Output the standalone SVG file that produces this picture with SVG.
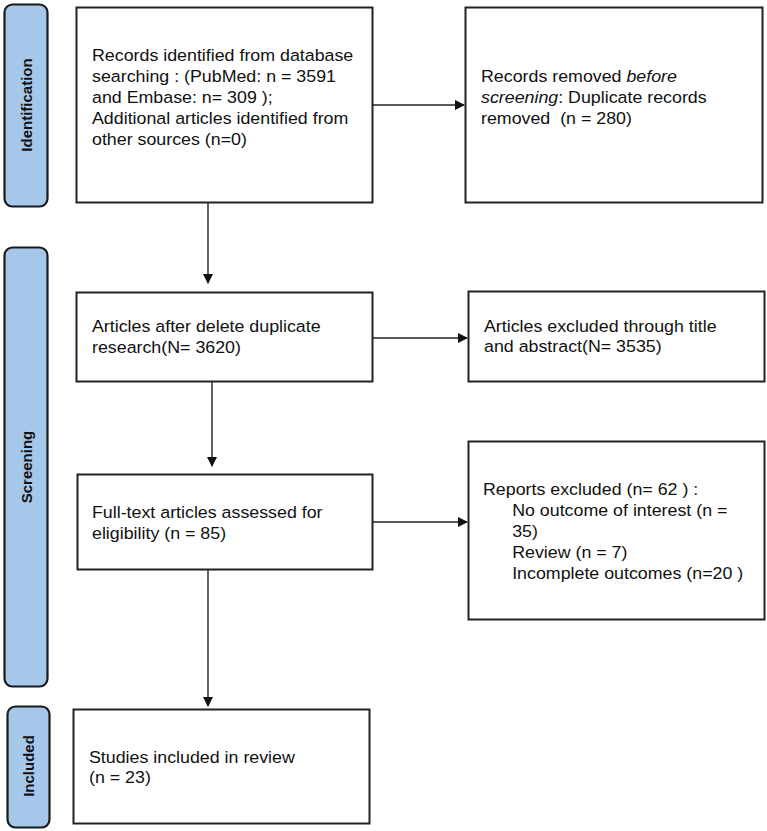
<svg xmlns="http://www.w3.org/2000/svg" width="767" height="831" viewBox="0 0 767 831">
<defs>
<style>
.box{fill:#fff;stroke:#222;stroke-width:2}
.lane{fill:#a5c7ea;stroke:#1a1a1a;stroke-width:2.2}
.t{font-family:"Liberation Sans",Arial,sans-serif;font-size:16.5px;fill:#111}
.lt{font-family:"Liberation Sans",Arial,sans-serif;font-size:15px;font-weight:bold;fill:#111}
.c{stroke:#222;stroke-width:1.4;fill:none}
</style>
<marker id="ah" markerWidth="10" markerHeight="10" refX="9" refY="5" orient="auto" markerUnits="userSpaceOnUse">
<path d="M0,0 L10,5 L0,10 Z" fill="#111"/>
</marker>
</defs>
<rect width="767" height="831" fill="#fff"/>
<g id="lane-identification">
<rect class="lane" x="4.5" y="4.5" width="43" height="202" rx="8"/>
<text class="lt" transform="translate(32,105) rotate(-90)" text-anchor="middle">Identification</text>
</g>
<g id="lane-screening">
<rect class="lane" x="4.5" y="247.5" width="43" height="439" rx="8"/>
<text class="lt" transform="translate(32,467) rotate(-90)" text-anchor="middle">Screening</text>
</g>
<g id="lane-included">
<rect class="lane" x="7.5" y="706.5" width="42" height="121" rx="8"/>
<text class="lt" transform="translate(34,766) rotate(-90)" text-anchor="middle">Included</text>
</g>
<g id="connectors">
<line class="c" x1="373" y1="105" x2="464" y2="105" marker-end="url(#ah)"/>
<line class="c" x1="208" y1="203" x2="208" y2="283" marker-end="url(#ah)"/>
<line class="c" x1="373" y1="338" x2="467" y2="338" marker-end="url(#ah)"/>
<line class="c" x1="212" y1="381" x2="212" y2="466" marker-end="url(#ah)"/>
<line class="c" x1="373" y1="522" x2="467" y2="522" marker-end="url(#ah)"/>
<line class="c" x1="208" y1="569" x2="208" y2="706" marker-end="url(#ah)"/>
</g>
<g id="records-identified">
<rect class="box" x="76.5" y="7.5" width="296" height="195"/>
<g transform="translate(92 0) scale(1.08 1)">
<text class="t" x="0" y="61">Records identified from database</text>
<text class="t" x="0" y="82">searching : (PubMed: n = 3591</text>
<text class="t" x="0" y="103">and Embase: n= 309 );</text>
<text class="t" x="0" y="124">Additional articles identified from</text>
<text class="t" x="0" y="145">other sources (n=0)</text>
</g>
</g>
<g id="records-removed">
<rect class="box" x="465.5" y="7.5" width="297" height="195"/>
<g transform="translate(481 0) scale(1.08 1)">
<text class="t" x="0" y="82">Records removed <tspan font-style="italic">before</tspan></text>
<text class="t" x="0" y="103"><tspan font-style="italic">screening</tspan>: Duplicate records</text>
<text class="t" x="0" y="124" xml:space="preserve">removed  (n = 280)</text>
</g>
</g>
<g id="articles-after">
<rect class="box" x="76.5" y="292.5" width="296" height="89"/>
<g transform="translate(92 0) scale(1.08 1)">
<text class="t" x="0" y="332">Articles after delete duplicate</text>
<text class="t" x="0" y="353">research(N= 3620)</text>
</g>
</g>
<g id="articles-excluded">
<rect class="box" x="468.5" y="291.5" width="296" height="90"/>
<g transform="translate(484 0) scale(1.08 1)">
<text class="t" x="0" y="332">Articles excluded through title</text>
<text class="t" x="0" y="352">and abstract(N= 3535)</text>
</g>
</g>
<g id="full-text">
<rect class="box" x="77.5" y="474.5" width="295" height="95"/>
<g transform="translate(92 0) scale(1.08 1)">
<text class="t" x="0" y="518">Full-text articles assessed for</text>
<text class="t" x="0" y="539">eligibility (n = 85)</text>
</g>
</g>
<g id="reports-excluded">
<rect class="box" x="468.5" y="441.5" width="296" height="178"/>
<g transform="translate(483 0) scale(1.08 1)">
<text class="t" x="0" y="495">Reports excluded (n= 62 ) :</text>
<text class="t" x="27" y="516">No outcome of interest (n =</text>
<text class="t" x="27" y="537">35)</text>
<text class="t" x="27" y="558">Review (n = 7)</text>
<text class="t" x="27" y="579">Incomplete outcomes (n=20 )</text>
</g>
</g>
<g id="studies-included">
<rect class="box" x="73.5" y="709.5" width="296" height="114"/>
<g transform="translate(89 0) scale(1.08 1)">
<text class="t" x="0" y="763">Studies included in review</text>
<text class="t" x="0" y="783">(n = 23)</text>
</g>
</g>
</svg>
